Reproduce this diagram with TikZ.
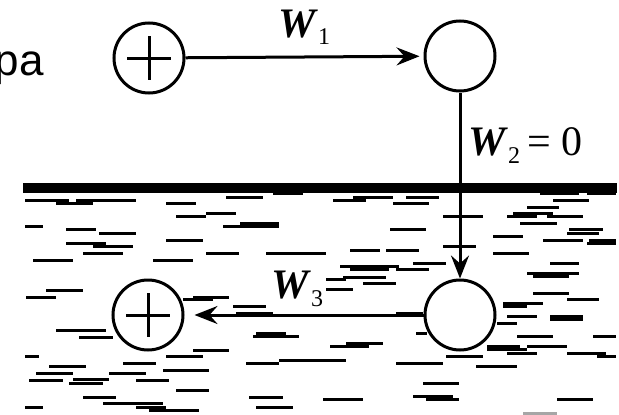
\documentclass[tikz,border=0pt]{standalone}
\usepackage{fontspec}
\setmainfont{Liberation Serif}
\newfontfamily\sansf{Liberation Sans}
\usetikzlibrary{arrows.meta}
\tikzset{
  ball/.style={circle,draw,line width=3pt,minimum size=70pt,inner sep=0pt},
  conn/.style={line width=3pt,-{Stealth[length=23pt,width=18pt,inset=8pt]}},
  wave/.style={line width=3pt},
  lab/.style={inner sep=0pt,font=\fontsize{42}{42}\selectfont}
}
\newcommand{\Wsub}[1]{\textbf{\textit{W}}\raisebox{-8pt}{\fontsize{24}{24}\selectfont #1}}
\begin{document}
\begin{tikzpicture}[x=1pt,y=-1pt]
\useasboundingbox (0,0) rectangle (619,415);
% water surface
\draw[line width=10pt] (23,187.5) -- (617,187.5);
% water dashes
\foreach \a/\b/\y in {25/69/200, 56/93/203, 76/136/200, 166/196/203, 226/263/197, 273/303/193, 176/206/216, 206/236/213, 25/43/226, 66/96/229, 99/136/233, 223/279/226, 240/279/223, 166/203/240, 66/106/243, 93/133/246, 83/123/253, 206/239/253, 266/309/253, 33/73/260, 153/193/260, 46/83/290, 26/56/297, 193/229/297, 183/213/299, 233/266/306, 236/273/313, 56/106/330, 79/113/337, 256/286/333, 253/299/336, 193/229/350, 25/39/356, 166/203/356, 49/86/366, 123/156/363, 246/279/363, 279/309/360, 163/209/370, 36/73/373, 109/146/373, 29/63/380, 73/109/379, 69/103/383, 136/169/380, 176/209/390, 83/116/397, 249/283/397, 25/43/407, 103/163/403, 136/166/407, 149/199/410, 256/293/407,
333/366/200, 353/393/197, 406/439/197, 393/429/203, 540/579/193, 587/616/193, 553/589/200, 527/559/207, 443/483/216, 513/553/213, 507/537/216, 547/583/216, 520/557/223, 390/426/229, 569/603/229, 567/599/233, 493/523/236, 543/583/240, 589/616/240, 587/616/243, 443/476/246, 300/326/253, 350/380/250, 386/419/250, 493/529/253, 413/446/263, 340/399/266, 350/389/269, 396/429/269, 550/579/263, 527/579/273, 533/569/276, 343/386/277, 326/346/279, 363/396/283, 326/353/289, 533/569/293, 567/599/299, 503/543/303, 503/527/306, 396/423/313, 507/537/316, 497/517/323, 416/427/333, 517/553/336, 593/616/336, 346/383/343, 330/369/346, 487/520/346, 527/567/346, 487/527/349, 507/537/353, 567/606/353, 597/616/356, 446/483/356, 300/346/360, 396/443/363, 476/517/366, 423/459/383, 413/453/396, 426/459/399, 323/363/399, 557/593/399}
  \draw[wave] (\a,\y) -- (\b,\y);
\draw[line width=6pt] (550,318) -- (583,318);
\draw[wave,gray!70] (523,413) -- (557,413);
% balls
\node[ball,fill=white] (c1) at (149,58) {};
\node[ball,fill=white] (c2) at (460,56) {};
\node[ball,fill=white] (c3) at (460,315) {};
\node[ball,fill=white] (c4) at (148,315) {};
\foreach \n in {c1,c4} {
  \draw[line width=3pt] (\n.center) +(-22,0) -- +(22,0);
  \draw[line width=3pt] (\n.center) +(0,-22) -- +(0,22);
}
% connectors
\draw[conn,shorten >=4pt] (c1) -- (c2);
\draw[conn] (c2) -- (c3);
\draw[conn,shorten >=10pt] (c3) -- (c4);
% labels
\node[lab,anchor=base west] (w1) at (278,37) {\Wsub{1}};
\node[lab,anchor=base west] (w2) at (468,155) {\Wsub{2}\,= 0};
\node[lab,anchor=base west] (w3) at (271,298) {\Wsub{3}};
\node[inner sep=0pt,anchor=base east,font=\sansf\fontsize{44}{44}\selectfont] (t) at (44,75) {ра};
\end{tikzpicture}
\end{document}
